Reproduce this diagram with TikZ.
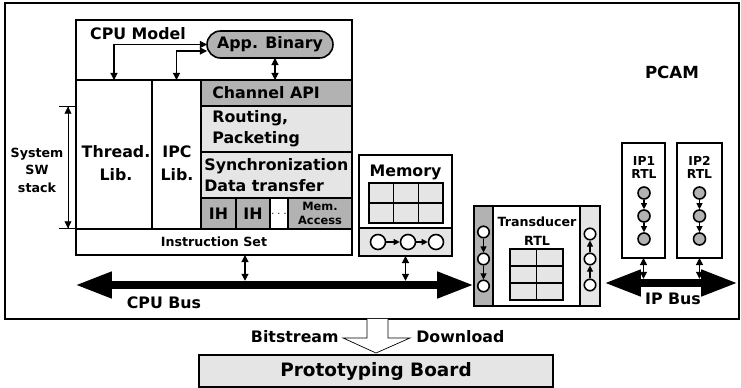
\documentclass[tikz,border=0pt]{standalone}
\usepackage{fontspec}
\setmainfont{DejaVu Sans}
\usetikzlibrary{arrows.meta,positioning}

\begin{document}
\begin{tikzpicture}[x=0.02cm,y=-0.02cm,
    box/.style={draw,rectangle,line width=0.9pt,inner sep=0pt,outer sep=0pt},
    dark/.style={box,fill=gray!60},
    light/.style={box,fill=gray!20},
    txt/.style={font=\bfseries\fontsize{9}{12}\selectfont,inner sep=0pt},
    small/.style={font=\bfseries\fontsize{7.2}{9}\selectfont,inner sep=0pt},
    tiny/.style={font=\bfseries\fontsize{6.5}{7.6}\selectfont,inner sep=0pt},
    ring/.style={circle,draw,line width=0.9pt,fill=white,inner sep=0pt},
    link/.style={semithick,{Triangle[length=4pt,width=4pt]}-{Triangle[length=4pt,width=4pt]}},
    flow/.style={semithick,-{Triangle[length=3.5pt,width=3.5pt]}},
    bus/.style={line width=4.8pt,{Triangle[length=21pt,width=14pt]}-{Triangle[length=21pt,width=14pt]}}]

  \useasboundingbox (0,0) rectangle (741,388);

  % PCAM frame
  \node[box,line width=1.1pt,minimum width=14.69cm,minimum height=6.32cm] (pcam) at (372,161) {};
  \node[txt,font=\bfseries\fontsize{9.5}{11}\selectfont] (pcamlbl) at (672,72) {PCAM};

  % CPU model
  \node[box,minimum width=5.52cm,minimum height=4.7cm] (cpu) at (214,137.5) {};
  \node[txt] (cpulbl) at (138,34) {CPU Model};
  \node[box,fill=gray!60,rounded corners=0.27cm,minimum width=2.52cm,minimum height=0.54cm,txt] (app) at (270,44.5) {App. Binary};

  % software stack
  \node[box,minimum width=1.52cm,minimum height=2.98cm] (thread) at (114,154.5) {};
  \node[box,minimum width=0.98cm,minimum height=2.98cm] (ipc) at (176.5,154.5) {};
  \node[txt,align=center,font=\bfseries\fontsize{9}{13}\selectfont] (threadlbl) at (116,163) {Thread.\\Lib.};
  \node[txt,align=center,font=\bfseries\fontsize{9}{13}\selectfont] (ipclbl) at (177,163) {IPC\\Lib.};
  \node[dark,minimum width=3.02cm,minimum height=0.52cm] (chapi) at (276.5,93) {};
  \node[light,minimum width=3.02cm,minimum height=0.92cm] (routing) at (276.5,129) {};
  \node[light,minimum width=3.02cm,minimum height=0.92cm] (sync) at (276.5,175) {};
  \node[txt,anchor=west] (chapilbl) at ([xshift=0.22cm]chapi.west) {Channel API};
  \node[txt,anchor=west,align=left] (routinglbl) at ([xshift=0.22cm]routing.west) {Routing,\\Packeting};
  \node[txt,anchor=west,align=left] (synclbl) at ([xshift=0.06cm]sync.west) {Synchronization\\Data transfer};
  \node[dark,txt,minimum width=0.7cm,minimum height=0.62cm] (ih1) at (218.5,213.5) {IH};
  \node[dark,txt,minimum width=0.68cm,minimum height=0.62cm] (ih2) at (253,213.5) {IH};
  \node[box,tiny,minimum width=0.36cm,minimum height=0.62cm] (more) at (279,213.5) {$\cdots$};
  \node[dark,tiny,align=center,minimum width=1.28cm,minimum height=0.62cm] (memacc) at (320,213.5) {Mem.\\Access};
  \node[box,small,minimum width=5.52cm,minimum height=0.52cm] (iset) at (214,242) {Instruction Set};

  % system sw stack
  \node[small,align=center,font=\bfseries\fontsize{7.2}{10}\selectfont] (swlbl) at (37,170) {System\\SW\\stack};
  \draw[thin,{Bar[width=10.5pt]Triangle[length=4pt,width=4pt]}-{Triangle[length=4pt,width=4pt]Bar[width=10.5pt]}]
    ([xshift=-0.16cm]thread.south west) -- ([xshift=-0.16cm]thread.west |- routing.north);

  % links to the binary
  \draw[link] (thread.north) |- (app.west);
  \draw[link] (ipc.north) |- ([yshift=-0.13cm]app.west);
  \draw[link] ([xshift=0.1cm]app.south) -- ([xshift=0.1cm]app.south |- chapi.north);

  % memory
  \node[box,minimum width=1.86cm,minimum height=2.02cm] (mem) at (405.5,205.5) {};
  \node[txt] (memlbl) at (405.5,172) {Memory};
  \foreach \i in {0,1,2}
    \foreach \j in {0,1}
      \node[light,minimum width=0.493cm,minimum height=0.4cm] (mcell\i\j) at (381.3+24.67*\i,193+20*\j) {};
  \node[light,minimum width=1.86cm,minimum height=0.56cm] (memq) at (405.5,242) {};
  \foreach \x [count=\k] in {378,408,436}
    \node[ring,minimum size=0.3cm] (mq\k) at (\x,242) {};
  \draw[flow] (mq1) -- (mq2);
  \draw[flow] (mq2) -- (mq3);

  % transducer
  \node[box,minimum width=2.52cm,minimum height=2cm] (td) at (537,256) {};
  \node[dark,minimum width=0.38cm,minimum height=2cm] (tdin) at (483.5,256) {};
  \node[light,minimum width=0.4cm,minimum height=2cm] (tdout) at (590,256) {};
  \node[small,align=center,font=\bfseries\fontsize{7.2}{11}\selectfont] (tdlbl) at (537,231) {Transducer\\RTL};
  \foreach \i in {0,1}
    \foreach \j in {0,1,2}
      \node[light,minimum width=0.53cm,minimum height=0.34cm] (tcell\i\j) at (523.25+26.5*\i,257.5+17*\j) {};
  \foreach \y [count=\k] in {232,259,286}
    \node[ring,minimum size=0.23cm] (tin\k) at (483.5,\y) {};
  \foreach \y [count=\k] in {234,259,285}
    \node[ring,minimum size=0.23cm] (tout\k) at (590,\y) {};
  \draw[flow] (tin1) -- (tin2);
  \draw[flow] (tin2) -- (tin3);
  \draw[flow] (tout3) -- (tout2);
  \draw[flow] (tout2) -- (tout1);

  % IP blocks
  \node[box,minimum width=0.86cm,minimum height=2.3cm] (ip1) at (643.5,200.5) {};
  \node[box,minimum width=0.9cm,minimum height=2.3cm] (ip2) at (699.5,200.5) {};
  \node[small,align=center,font=\bfseries\fontsize{7}{7.4}\selectfont] (ip1lbl) at (644,167.5) {IP1\\RTL};
  \node[small,align=center,font=\bfseries\fontsize{7}{7.4}\selectfont] (ip2lbl) at (699.5,167.5) {IP2\\RTL};
  \foreach \y [count=\k] in {193,216,239} {
    \node[ring,fill=gray!60,minimum size=0.24cm] (ipa\k) at (644,\y) {};
    \node[ring,fill=gray!60,minimum size=0.24cm] (ipb\k) at (699.5,\y) {};
  }
  \draw[flow] (ipa1) -- (ipa2);
  \draw[flow] (ipa2) -- (ipa3);
  \draw[flow] (ipb1) -- (ipb2);
  \draw[flow] (ipb2) -- (ipb3);

  % buses
  \coordinate (cpul) at (75,285);
  \draw[bus] (cpul) -- (td.west |- cpul);
  \node[txt] (cpubuslbl) at (164,303) {CPU Bus};
  \coordinate (ipl) at (604,283);
  \coordinate (ipr) at (738,283);
  \draw[bus] (ipl) -- (ipr);
  \node[txt] (ipbuslbl) at (673,299) {IP Bus};

  \draw[link,shorten >=2.4pt] ([xshift=0.62cm]iset.south) -- ([xshift=0.62cm]iset.south |- cpul);
  \draw[link,shorten >=2.4pt] (mem.south) -- (mem.south |- cpul);
  \draw[link,shorten >=2.4pt] (ip1.south) -- (ip1.south |- ipl);
  \draw[link,shorten >=2.4pt] (ip2.south) -- (ip2.south |- ipl);

  % prototyping board
  \node[box,fill=gray!20,minimum width=7.08cm,minimum height=0.64cm,font=\bfseries\fontsize{10.5}{12}\selectfont] (board) at (376,371) {Prototyping Board};
  \draw[thin,fill=white] ([xshift=-0.18cm]board.north |- pcam.south) -- ++(0,19) -- ++(-24,0)
    -- ([yshift=0.04cm]board.north) -- ++(34,-15) -- ++(-22,0) -- ([xshift=0.24cm]board.north |- pcam.south);
  \node[txt,anchor=east] (bitlbl) at (339,337) {Bitstream};
  \node[txt,anchor=west] (dllbl) at (416,337) {Download};
\end{tikzpicture}
\end{document}
